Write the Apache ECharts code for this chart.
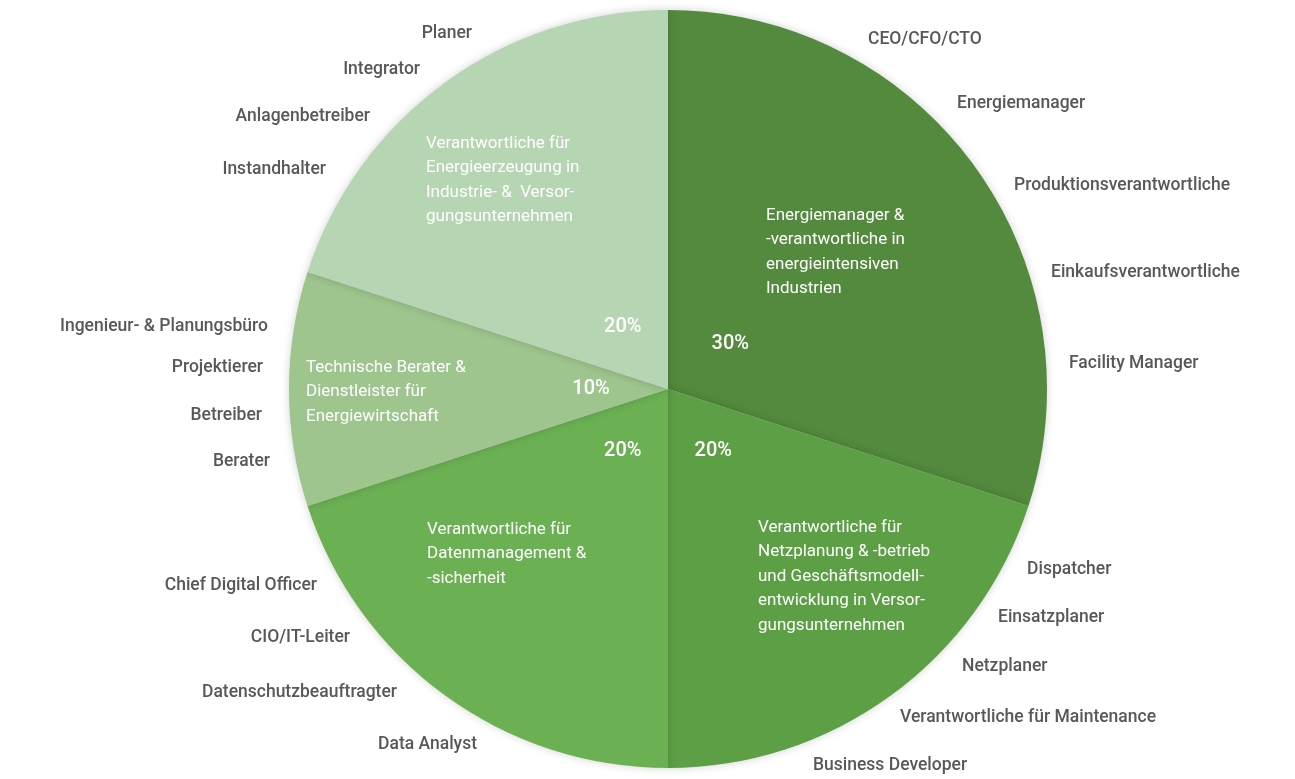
<!DOCTYPE html>
<html>
<head>
<meta charset="utf-8">
<script src="https://cdn.jsdelivr.net/npm/echarts@6/dist/echarts.min.js"></script>
<style>
  html, body { margin: 0; padding: 0; background: #fff; }
  #chart { width: 1295px; height: 779px; }
</style>
</head>
<body>
<div id="chart"></div>
<script>
// target groups, clockwise from 12 o'clock
let groups = [
    'Energiemanager &\n-verantwortliche in\nenergieintensiven\nIndustrien',
    'Verantwortliche für\nNetzplanung & -betrieb\nund Geschäftsmodell-\nentwicklung in Versor-\ngungsunternehmen',
    'Verantwortliche für\nDatenmanagement &\n-sicherheit',
    'Technische Berater &\nDienstleister für\nEnergiewirtschaft',
    'Verantwortliche für\nEnergieerzeugung in\nIndustrie- &  Versor-\ngungsunternehmen'
];
let shares = [30, 20, 20, 10, 20];

// roles listed around the pie, per group
let roles = [
    ['CEO/CFO/CTO', 'Energiemanager', 'Produktionsverantwortliche', 'Einkaufsverantwortliche', 'Facility Manager'],
    ['Dispatcher', 'Einsatzplaner', 'Netzplaner', 'Verantwortliche für Maintenance', 'Business Developer'],
    ['Chief Digital Officer', 'CIO/IT-Leiter', 'Datenschutzbeauftragter', 'Data Analyst'],
    ['Ingenieur- & Planungsbüro', 'Projektierer', 'Betreiber', 'Berater'],
    ['Planer', 'Integrator', 'Anlagenbetreiber', 'Instandhalter']
];

let colours = ['#538a3d', '#5d9f45', '#6bb153', '#9dc58d', '#b6d5b3'];

// where the texts sit (layout only)
let groupPos = [[766, 203], [758, 515], [427, 517], [306, 355], [426, 131]];
let rolePos = [
    [[868, 40], [957, 104], [1014, 186], [1051, 273], [1069, 364]],
    [[1027, 570], [998, 618], [962, 667], [900, 718], [813, 766]],
    [[317, 586], [350, 638], [397, 693], [477, 745]],
    [[268, 327], [263, 368], [262, 416], [270, 462]],
    [[472, 34], [420, 70], [370, 117], [326, 170]]
];

let myChart = echarts.init(document.getElementById('chart'));

let pieData = [];
let pctData = [];
let i = 0;
shares.forEach(v => {
    pieData.push({ value: v, name: 'g' + i, itemStyle: { color: colours[i] } });
    pctData.push({ value: v, name: 'g' + i });
    i++;
});

let texts = [];
groups.forEach((g, k) => {
    texts.push({
        type: 'text',
        x: groupPos[k][0],
        y: groupPos[k][1],
        z: 100,
        silent: true,
        style: {
            text: g,
            fill: '#ffffff',
            fontSize: 17,
            fontFamily: 'Roboto',
            lineHeight: 24.5,
            textAlign: 'left',
            textVerticalAlign: 'top'
        }
    });
});
roles.forEach((list, k) => {
    let left = (k >= 2);
    list.forEach((r, j) => {
        texts.push({
            type: 'text',
            x: rolePos[k][j][0],
            y: rolePos[k][j][1],
            z: 100,
            silent: true,
            style: {
                text: r,
                fill: '#585858',
                fontSize: 17.5,
                fontWeight: 500,
                fontFamily: 'Roboto',
                textAlign: left ? 'right' : 'left',
                textVerticalAlign: 'middle'
            }
        });
    });
});

let option = {
    animation: false,
    backgroundColor: '#ffffff',
    series: [
        {
            type: 'pie',
            center: [668, 389],
            radius: [0, 379],
            startAngle: 90,
            clockwise: true,
            silent: true,
            label: { show: false },
            labelLine: { show: false },
            itemStyle: {
                borderWidth: 0,
                shadowBlur: 8,
                shadowColor: 'rgba(0,0,0,0.18)'
            },
            data: pieData
        },
        {
            type: 'pie',
            center: [668, 389],
            radius: [0, 148],
            startAngle: 90,
            clockwise: true,
            silent: true,
            z: 3,
            itemStyle: { color: 'rgba(0,0,0,0)' },
            label: {
                show: true,
                position: 'inside',
                formatter: '{c}%',
                color: '#ffffff',
                fontSize: 20,
                fontFamily: 'Roboto',
                fontWeight: 500
            },
            labelLine: { show: false },
            data: pctData
        }
    ],
    graphic: { elements: texts }
};

myChart.setOption(option);
</script>
</body>
</html>
